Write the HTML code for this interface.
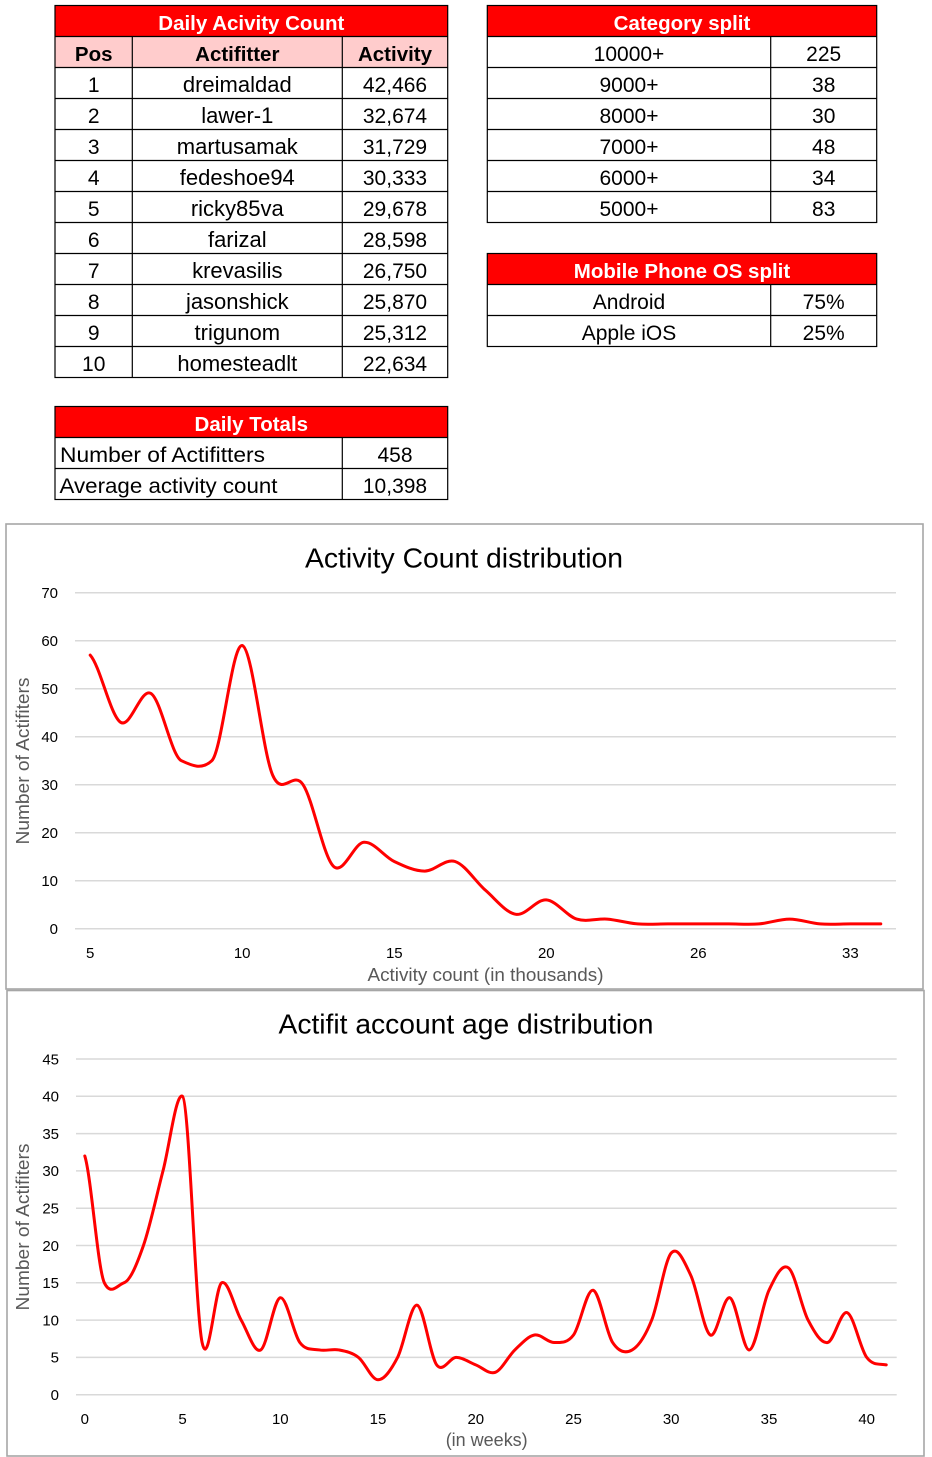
<!DOCTYPE html>
<html><head><meta charset="utf-8"><style>
html,body{margin:0;padding:0;background:#fff;}
svg{display:block;}
text{font-family:"Liberation Sans",sans-serif;}
</style></head><body>
<svg width="932" height="1457" viewBox="0 0 932 1457" xmlns="http://www.w3.org/2000/svg">
<rect x="0" y="0" width="932" height="1457" fill="#fff"/>

<!-- ===== Daily Activity Count table ===== -->
<g>
<rect x="55" y="5.5" width="392.7" height="31" fill="#FF0000"/>
<rect x="55" y="36.5" width="392.7" height="31" fill="#FFCCCC"/>
<g stroke="#000" stroke-width="1.2" fill="none">
<rect x="55" y="5.5" width="392.7" height="372"/>
<line x1="55" y1="36.5" x2="447.7" y2="36.5"/>
<line x1="55" y1="67.5" x2="447.7" y2="67.5"/>
<line x1="55" y1="98.5" x2="447.7" y2="98.5"/>
<line x1="55" y1="129.5" x2="447.7" y2="129.5"/>
<line x1="55" y1="160.5" x2="447.7" y2="160.5"/>
<line x1="55" y1="191.5" x2="447.7" y2="191.5"/>
<line x1="55" y1="222.5" x2="447.7" y2="222.5"/>
<line x1="55" y1="253.5" x2="447.7" y2="253.5"/>
<line x1="55" y1="284.5" x2="447.7" y2="284.5"/>
<line x1="55" y1="315.5" x2="447.7" y2="315.5"/>
<line x1="55" y1="346.5" x2="447.7" y2="346.5"/>
<line x1="132.3" y1="36.5" x2="132.3" y2="377.5"/>
<line x1="342.3" y1="36.5" x2="342.3" y2="377.5"/>
</g>
<text x="251.3" y="30" font-size="20.5" font-weight="bold" fill="#fff" text-anchor="middle">Daily Acivity Count</text>
<g font-size="20.5" font-weight="bold" fill="#000" text-anchor="middle">
<text x="93.7" y="61">Pos</text>
<text x="237.3" y="61">Actifitter</text>
<text x="395" y="61">Activity</text>
</g>
<g font-size="21" fill="#000" text-anchor="middle">
<text x="93.7" y="92">1</text><text x="395" y="92">42,466</text>
<text x="93.7" y="123">2</text><text x="395" y="123">32,674</text>
<text x="93.7" y="154">3</text><text x="395" y="154">31,729</text>
<text x="93.7" y="185">4</text><text x="395" y="185">30,333</text>
<text x="93.7" y="216">5</text><text x="395" y="216">29,678</text>
<text x="93.7" y="247">6</text><text x="395" y="247">28,598</text>
<text x="93.7" y="278">7</text><text x="395" y="278">26,750</text>
<text x="93.7" y="309">8</text><text x="395" y="309">25,870</text>
<text x="93.7" y="340">9</text><text x="395" y="340">25,312</text>
<text x="93.7" y="371">10</text><text x="395" y="371">22,634</text>
</g>
<g font-size="22" fill="#000" text-anchor="middle">
<text x="237.3" y="92">dreimaldad</text>
<text x="237.3" y="123">lawer-1</text>
<text x="237.3" y="154">martusamak</text>
<text x="237.3" y="185">fedeshoe94</text>
<text x="237.3" y="216">ricky85va</text>
<text x="237.3" y="247">farizal</text>
<text x="237.3" y="278">krevasilis</text>
<text x="237.3" y="309">jasonshick</text>
<text x="237.3" y="340">trigunom</text>
<text x="237.3" y="371">homesteadlt</text>
</g>
</g>

<!-- ===== Daily Totals ===== -->
<g>
<rect x="55" y="406.5" width="392.7" height="31" fill="#FF0000"/>
<g stroke="#000" stroke-width="1.2" fill="none">
<rect x="55" y="406.5" width="392.7" height="93"/>
<line x1="55" y1="437.5" x2="447.7" y2="437.5"/>
<line x1="55" y1="468.5" x2="447.7" y2="468.5"/>
<line x1="342.3" y1="437.5" x2="342.3" y2="499.5"/>
</g>
<text x="251.3" y="431" font-size="20.5" font-weight="bold" fill="#fff" text-anchor="middle">Daily Totals</text>
<g font-size="21" fill="#000">
<text x="60" y="462" textLength="205" lengthAdjust="spacingAndGlyphs">Number of Actifitters</text>
<text x="59.5" y="493" textLength="218" lengthAdjust="spacingAndGlyphs">Average activity count</text>
<text x="395" y="462" text-anchor="middle">458</text>
<text x="395" y="493" text-anchor="middle">10,398</text>
</g>
</g>

<!-- ===== Category split ===== -->
<g>
<rect x="487.3" y="5.5" width="389.4" height="31" fill="#FF0000"/>
<g stroke="#000" stroke-width="1.2" fill="none">
<rect x="487.3" y="5.5" width="389.4" height="217"/>
<line x1="487.3" y1="36.5" x2="876.7" y2="36.5"/>
<line x1="487.3" y1="67.5" x2="876.7" y2="67.5"/>
<line x1="487.3" y1="98.5" x2="876.7" y2="98.5"/>
<line x1="487.3" y1="129.5" x2="876.7" y2="129.5"/>
<line x1="487.3" y1="160.5" x2="876.7" y2="160.5"/>
<line x1="487.3" y1="191.5" x2="876.7" y2="191.5"/>
<line x1="770.7" y1="36.5" x2="770.7" y2="222.5"/>
</g>
<text x="682" y="30" font-size="20.5" font-weight="bold" fill="#fff" text-anchor="middle">Category split</text>
<g font-size="21" fill="#000" text-anchor="middle">
<text x="629" y="61">10000+</text><text x="823.7" y="61">225</text>
<text x="629" y="92">9000+</text><text x="823.7" y="92">38</text>
<text x="629" y="123">8000+</text><text x="823.7" y="123">30</text>
<text x="629" y="154">7000+</text><text x="823.7" y="154">48</text>
<text x="629" y="185">6000+</text><text x="823.7" y="185">34</text>
<text x="629" y="216">5000+</text><text x="823.7" y="216">83</text>
</g>
</g>

<!-- ===== Mobile Phone OS split ===== -->
<g>
<rect x="487.3" y="253.5" width="389.4" height="31" fill="#FF0000"/>
<g stroke="#000" stroke-width="1.2" fill="none">
<rect x="487.3" y="253.5" width="389.4" height="93"/>
<line x1="487.3" y1="284.5" x2="876.7" y2="284.5"/>
<line x1="487.3" y1="315.5" x2="876.7" y2="315.5"/>
<line x1="770.7" y1="284.5" x2="770.7" y2="346.5"/>
</g>
<text x="682" y="278" font-size="20.5" font-weight="bold" fill="#fff" text-anchor="middle">Mobile Phone OS split</text>
<g font-size="21" fill="#000" text-anchor="middle">
<text x="629" y="309">Android</text><text x="823.7" y="309">75%</text>
<text x="629" y="340">Apple iOS</text><text x="823.7" y="340">25%</text>
</g>
</g>

<!-- ===== Chart 1 ===== -->
<g>
<rect x="6" y="524" width="917" height="465" fill="#fff" stroke="#A6A6A6" stroke-width="1.6"/>
<text x="464" y="567.5" font-size="28" fill="#000" text-anchor="middle" textLength="318" lengthAdjust="spacingAndGlyphs">Activity Count distribution</text>
<g stroke="#D9D9D9" stroke-width="1.5">
<line x1="75" y1="592.7" x2="896" y2="592.7"/>
<line x1="75" y1="640.7" x2="896" y2="640.7"/>
<line x1="75" y1="688.7" x2="896" y2="688.7"/>
<line x1="75" y1="736.7" x2="896" y2="736.7"/>
<line x1="75" y1="784.7" x2="896" y2="784.7"/>
<line x1="75" y1="832.7" x2="896" y2="832.7"/>
<line x1="75" y1="880.7" x2="896" y2="880.7"/>
<line x1="75" y1="928.7" x2="896" y2="928.7"/>
</g>
<g font-size="15" fill="#000" text-anchor="end">
<text x="58" y="598">70</text>
<text x="58" y="646">60</text>
<text x="58" y="694">50</text>
<text x="58" y="742">40</text>
<text x="58" y="790">30</text>
<text x="58" y="838">20</text>
<text x="58" y="886">10</text>
<text x="58" y="934">0</text>
</g>
<g font-size="15" fill="#000" text-anchor="middle">
<text x="90.2" y="958">5</text>
<text x="242.2" y="958">10</text>
<text x="394.3" y="958">15</text>
<text x="546.3" y="958">20</text>
<text x="698.3" y="958">26</text>
<text x="850.4" y="958">33</text>
</g>
<text x="485.5" y="981" font-size="18" fill="#595959" text-anchor="middle" textLength="236" lengthAdjust="spacingAndGlyphs">Activity count (in thousands)</text>
<text transform="translate(29,761) rotate(-90)" x="0" y="0" font-size="18" fill="#595959" text-anchor="middle" textLength="167" lengthAdjust="spacingAndGlyphs">Number of Actifiters</text>
<g transform="translate(90.2,928.7) scale(30.407,-4.8)">
<path vector-effect="non-scaling-stroke" fill="none" stroke="#FF0000" stroke-width="3" stroke-linejoin="round" stroke-linecap="round"
d="M0,57 C0.333,54.67 0.667,44.33 1,43 S1.667,50.33 2,49 S2.667,36 3,35 S3.667,33 4,35 S4.667,59.5 5,59 S5.667,36.83 6,32 S6.667,33.17 7,30 S7.667,15 8,13 S8.667,17.83 9,18 S9.667,15 10,14 S10.667,12 11,12 S11.667,14.67 12,14 S12.667,9.83 13,8 S13.667,3.33 14,3 S14.667,6.17 15,6 S15.667,2.67 16,2 S16.667,2.17 17,2 S17.667,1.17 18,1 S18.667,1 19,1 S19.667,1 20,1 S20.667,1 21,1 S21.667,0.83 22,1 S22.667,2 23,2 S23.667,1.17 24,1 S24.667,1 25,1 S25.667,1 26,1"/>
</g>
</g>

<!-- ===== Chart 2 ===== -->
<g>
<rect x="7" y="990.5" width="917" height="465.5" fill="#fff" stroke="#A6A6A6" stroke-width="1.6"/>
<text x="466" y="1033.3" font-size="28" fill="#000" text-anchor="middle" textLength="375" lengthAdjust="spacingAndGlyphs">Actifit account age distribution</text>
<g stroke="#D9D9D9" stroke-width="1.5">
<line x1="76" y1="1059" x2="896.7" y2="1059"/>
<line x1="76" y1="1096.3" x2="896.7" y2="1096.3"/>
<line x1="76" y1="1133.6" x2="896.7" y2="1133.6"/>
<line x1="76" y1="1170.9" x2="896.7" y2="1170.9"/>
<line x1="76" y1="1208.2" x2="896.7" y2="1208.2"/>
<line x1="76" y1="1245.5" x2="896.7" y2="1245.5"/>
<line x1="76" y1="1282.8" x2="896.7" y2="1282.8"/>
<line x1="76" y1="1320.1" x2="896.7" y2="1320.1"/>
<line x1="76" y1="1357.4" x2="896.7" y2="1357.4"/>
<line x1="76" y1="1394.7" x2="896.7" y2="1394.7"/>
</g>
<g font-size="15" fill="#000" text-anchor="end">
<text x="59" y="1064.3">45</text>
<text x="59" y="1101.6">40</text>
<text x="59" y="1138.9">35</text>
<text x="59" y="1176.2">30</text>
<text x="59" y="1213.5">25</text>
<text x="59" y="1250.8">20</text>
<text x="59" y="1288.1">15</text>
<text x="59" y="1325.4">10</text>
<text x="59" y="1362.7">5</text>
<text x="59" y="1400">0</text>
</g>
<g font-size="15" fill="#000" text-anchor="middle">
<text x="84.8" y="1424">0</text>
<text x="182.5" y="1424">5</text>
<text x="280.3" y="1424">10</text>
<text x="378" y="1424">15</text>
<text x="475.8" y="1424">20</text>
<text x="573.5" y="1424">25</text>
<text x="671.2" y="1424">30</text>
<text x="769" y="1424">35</text>
<text x="866.7" y="1424">40</text>
</g>
<text x="486.7" y="1446" font-size="18" fill="#595959" text-anchor="middle" textLength="82" lengthAdjust="spacingAndGlyphs">(in weeks)</text>
<text transform="translate(29,1227) rotate(-90)" x="0" y="0" font-size="18" fill="#595959" text-anchor="middle" textLength="167" lengthAdjust="spacingAndGlyphs">Number of Actifiters</text>
<g transform="translate(84.8,1394.7) scale(19.548,-7.46)">
<path vector-effect="non-scaling-stroke" fill="none" stroke="#FF0000" stroke-width="3" stroke-linejoin="round" stroke-linecap="round"
d="M0,32 C0.333,29.17 0.667,16.8 1,15 S1.667,14.7 2,15 S2.667,17.5 3,20 S3.667,26.67 4,30 S4.667,40.6 5,40 S5.667,11.17 6,7 S6.667,14.5 7,15 S7.667,11.5 8,10 S8.667,5.5 9,6 S9.667,12.83 10,13 S10.667,8.17 11,7 S11.667,6.17 12,6 S12.667,6.17 13,6 S13.667,5.67 14,5 S14.667,2 15,2 S15.667,3.33 16,5 S16.667,12.17 17,12 S17.667,5.17 18,4 S18.667,5 19,5 S19.667,4.33 20,4 S20.667,2.67 21,3 S21.667,5.17 22,6 S22.667,7.83 23,8 S23.667,7 24,7 S24.667,6.83 25,8 S25.667,14.17 26,14 S26.667,8.33 27,7 S27.667,5.5 28,6 S28.667,7.83 29,10 S29.667,18 30,19 S30.667,17.83 31,16 S31.667,8.5 32,8 S32.667,13.33 33,13 S33.667,5.83 34,6 S34.667,12.17 35,14 S35.667,17.67 36,17 S36.667,11.67 37,10 S37.667,6.83 38,7 S38.667,11.33 39,11 S39.667,6.17 40,5 S40.667,4.17 41,4"/>
</g>
</g>
</svg>
</body></html>
